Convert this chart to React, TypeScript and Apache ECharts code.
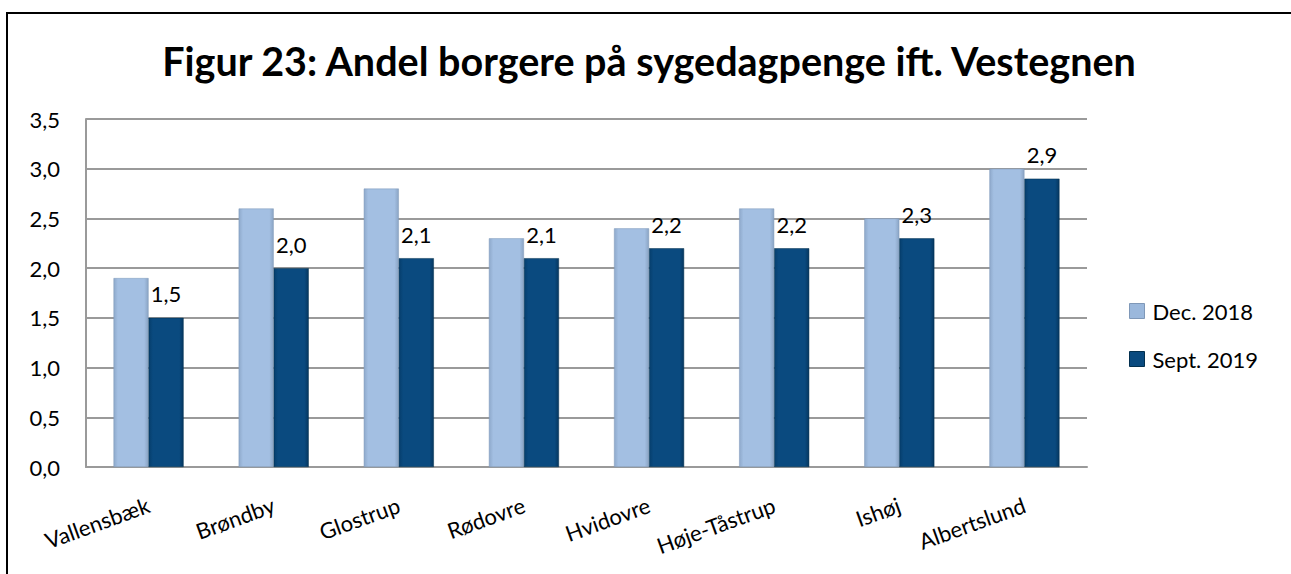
import React, { useEffect, useRef } from "react";
import * as echarts from "echarts";

const categories = ["Vallensbæk", "Brøndby", "Glostrup", "Rødovre", "Hvidovre", "Høje-Tåstrup", "Ishøj", "Albertslund"];
const dec2018 = [1.9, 2.6, 2.8, 2.3, 2.4, 2.6, 2.5, 3.0];
const sept2019 = [1.5, 2.0, 2.1, 2.1, 2.2, 2.2, 2.3, 2.9];
const seriesNames = ["Dec. 2018", "Sept. 2019"];
const titleText = "Figur 23: Andel borgere på sygedagpenge ift. Vestegnen";

const FONT = "Lato";

const lightGrad = new echarts.graphic.LinearGradient(0, 0, 1, 0, [
  { offset: 0, color: "#8ea9cb" },
  { offset: 0.12, color: "#a3bfe2" },
  { offset: 0.88, color: "#a3bfe2" },
  { offset: 1, color: "#8aa4c4" },
]);
const darkGrad = new echarts.graphic.LinearGradient(0, 0, 1, 0, [
  { offset: 0, color: "#063e6c" },
  { offset: 0.12, color: "#0a4a7f" },
  { offset: 0.88, color: "#0a4a7f" },
  { offset: 1, color: "#053760" },
]);

export default function App() {
  const ref = useRef<HTMLDivElement>(null);
  useEffect(() => {
    if (!ref.current) return;
    const chart = echarts.init(ref.current, undefined, { renderer: "svg" });
    chart.setOption({
      animation: false,
      backgroundColor: "#ffffff",
      textStyle: { fontFamily: FONT },
      title: {
        text: titleText,
        left: 649,
        top: 40,
        padding: 0,
        textAlign: "center",
        textStyle: { fontFamily: FONT, fontWeight: "bold", fontSize: 39.5, color: "#000" },
      },
      graphic: [
        {
          type: "rect",
          shape: { x: 7, y: 13, width: 1400, height: 700 },
          style: { fill: "none", stroke: "#000", lineWidth: 2 },
          silent: true,
        },
      ],
      legend: {
        orient: "vertical",
        left: 1129,
        top: 300,
        padding: 0,
        itemWidth: 15,
        itemHeight: 15,
        itemGap: 26,
        icon: "rect",
        data: [
          { name: seriesNames[0], itemStyle: { color: "#9bb8dc", borderColor: "#7f98b8", borderWidth: 1 } },
          { name: seriesNames[1], itemStyle: { color: "#0a4a7f", borderColor: "#03304f", borderWidth: 1 } },
        ],
        textStyle: { fontFamily: FONT, fontSize: 22, color: "#000", padding: [0, 0, 0, 3] },
      },
      grid: { left: 86, right: 204, top: 119, bottom: 107 },
      xAxis: {
        type: "category",
        data: categories,
        axisLine: { show: true, lineStyle: { color: "#9a9a9a", width: 2 } },
        axisTick: { show: false },
        axisLabel: { rotate: 20, fontFamily: FONT, fontSize: 22, color: "#000", margin: 37, interval: 0 },
      },
      yAxis: {
        type: "value",
        min: 0,
        max: 3.5,
        interval: 0.5,
        axisLine: { show: true, lineStyle: { color: "#9a9a9a", width: 2 } },
        axisTick: { show: false },
        splitLine: { lineStyle: { color: "#9a9a9a", width: 2 } },
        axisLabel: {
          fontFamily: FONT,
          fontSize: 22,
          color: "#000",
          margin: 26,
          formatter: (v: number) => v.toFixed(1).replace(".", ","),
        },
      },
      series: [
        {
          name: seriesNames[0],
          type: "bar",
          data: dec2018,
          barGap: "0%",
          barCategoryGap: "44%",
          itemStyle: { color: lightGrad, borderColor: "#7f98b8", borderWidth: 0.5 },
        },
        {
          name: seriesNames[1],
          type: "bar",
          data: sept2019,
          itemStyle: { color: darkGrad, borderColor: "#03304f", borderWidth: 0.5 },
          label: {
            show: true,
            position: "top",
            distance: 13,
            fontFamily: FONT,
            fontSize: 22,
            color: "#000",
            formatter: (p: any) => Number(p.value).toFixed(1).replace(".", ","),
          },
        },
      ],
    });
    return () => chart.dispose();
  }, []);
  return <div ref={ref} style={{ position: "fixed", left: 0, top: 0, width: 1291, height: 574 }} />;
}
